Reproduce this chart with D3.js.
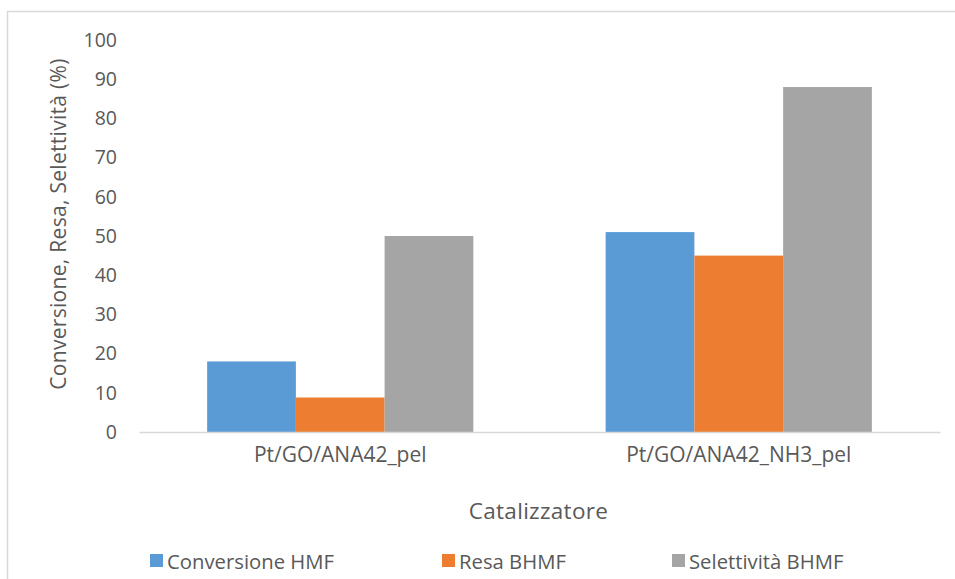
<!DOCTYPE html>
<html>
<head>
<meta charset="utf-8">
<script src="https://cdn.jsdelivr.net/npm/d3@7"></script>
<style>
  html, body { margin: 0; padding: 0; background: #ffffff; }
  svg { display: block; }
  text { font-family: "Open Sans", sans-serif; fill: #595959; }
</style>
</head>
<body>
<svg id="chart" width="955" height="579"></svg>
<script>
// ---- Data ----
const categories = ["Pt/GO/ANA42_pel", "Pt/GO/ANA42_NH3_pel"];
const seriesNames = ["Conversione HMF", "Resa BHMF", "Selettività BHMF"];
const conversioneHMF = [18, 51];
const resaBHMF = [8.8, 45];
const selettivitaBHMF = [50, 88];
const yTicks = [0, 10, 20, 30, 40, 50, 60, 70, 80, 90, 100];
const seriesColors = ["#5b9bd5", "#ed7d31", "#a5a5a5"];
const xTitle = "Catalizzatore";
const yTitle = "Conversione, Resa, Selettività (%)";

const seriesValues = [conversioneHMF, resaBHMF, selettivitaBHMF];
const table = categories.map((c, i) => ({
  category: c,
  values: seriesNames.map((s, j) => ({ series: s, value: seriesValues[j][i], color: seriesColors[j] }))
}));

// ---- Layout ----
const svg = d3.select("#chart");
const plot = { left: 139, right: 940, top: 40, bottom: 432 };

// chart frame
svg.append("rect")
  .attr("x", 7.5).attr("y", 11.5)
  .attr("width", 1000).attr("height", 700)
  .attr("fill", "none")
  .attr("stroke", "#d9d9d9")
  .attr("stroke-width", 1.5);

const x0 = d3.scaleBand()
  .domain(categories)
  .range([plot.left, plot.right])
  .paddingInner(0.332)
  .paddingOuter(0.171);

const x1 = d3.scaleBand()
  .domain(seriesNames)
  .range([0, x0.bandwidth()])
  .padding(0);

const y = d3.scaleLinear()
  .domain([0, 100])
  .range([plot.bottom, plot.top]);

// bars
const groups = svg.append("g").selectAll("g")
  .data(table)
  .join("g")
  .attr("transform", d => `translate(${x0(d.category)},0)`);

groups.selectAll("rect")
  .data(d => d.values)
  .join("rect")
  .attr("x", d => x1(d.series))
  .attr("y", d => y(d.value))
  .attr("width", x1.bandwidth())
  .attr("height", d => y(0) - y(d.value))
  .attr("fill", d => d.color);

// y axis (labels only)
const yAxis = d3.axisLeft(y)
  .tickValues(yTicks)
  .tickSize(0)
  .tickPadding(22);
const gy = svg.append("g")
  .attr("transform", `translate(${plot.left},0)`)
  .call(yAxis);
gy.select(".domain").remove();
gy.selectAll("text")
  .style("font-family", "'Open Sans', sans-serif")
  .style("font-size", "19.5px")
  .style("fill", "#595959");

// x axis
const xAxis = d3.axisBottom(x0).tickSize(0).tickPadding(15);
const gx = svg.append("g")
  .attr("transform", `translate(0,${plot.bottom})`)
  .call(xAxis);
gx.select(".domain")
  .attr("stroke", "#d9d9d9")
  .attr("stroke-width", 1.5);
gx.selectAll("text")
  .style("font-family", "'Open Sans', sans-serif")
  .style("font-size", "21px")
  .style("fill", "#595959");

// axis titles
svg.append("text")
  .attr("x", (plot.left + plot.right) / 2 - 1)
  .attr("y", 519)
  .attr("text-anchor", "middle")
  .style("font-size", "22.5px")
  .style("letter-spacing", "0.3px")
  .text(xTitle);

svg.append("text")
  .attr("transform", `translate(66,224) rotate(-90)`)
  .attr("text-anchor", "middle")
  .style("font-size", "21px")
  .style("letter-spacing", "0.3px")
  .text(yTitle);

// legend
const legendX = [150, 442, 672];
const legend = svg.append("g").selectAll("g")
  .data(seriesNames)
  .join("g")
  .attr("transform", (d, i) => `translate(${legendX[i]},553)`);
legend.append("rect")
  .attr("width", 13).attr("height", 13).attr("y", 1)
  .attr("fill", (d, i) => seriesColors[i]);
legend.append("text")
  .attr("x", 17)
  .attr("y", 15.5)
  .style("font-size", "20.3px")
  .text(d => d);
</script>
</body>
</html>
